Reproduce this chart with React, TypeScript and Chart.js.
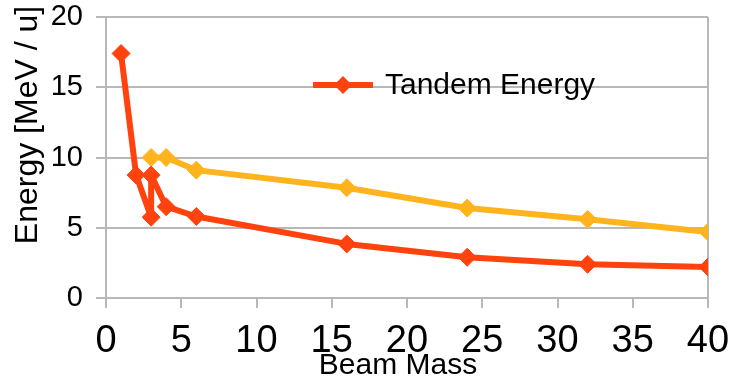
import { useEffect, useRef } from "react";
import { Chart, registerables } from "chart.js";

Chart.register(...registerables);

// Tandem output energy per nucleon versus beam mass
const tandemMass = [1, 2, 3, 3, 4, 6, 16, 24, 32, 40];
const tandemEnergy = [17.4, 8.75, 5.75, 8.75, 6.5, 5.8, 3.85, 2.9, 2.4, 2.2];

// Second (unlabelled) energy curve
const boostMass = [3, 4, 6, 16, 24, 32, 40];
const boostEnergy = [10, 10, 9.1, 7.85, 6.4, 5.6, 4.7];

const xTickValues = [0, 5, 10, 15, 20, 25, 30, 35, 40];
const yTickValues = [0, 5, 10, 15, 20];

const xTitle = "Beam Mass";
const yTitle = "Energy [MeV / u]";

const RED = "#ff420e";
const YELLOW = "#ffb41e";
const GRID = "#b8b8b8";
const SANS = "'Liberation Sans', Arial, sans-serif";

const toPoints = (xs: number[], ys: number[]) => xs.map((x, i) => ({ x, y: ys[i] }));

// Axis titles and the in-plot legend entry
const overlay = {
  id: "overlay",
  afterDraw(chart: Chart) {
    const { ctx } = chart;
    const ds: any = chart.data.datasets[0];

    ctx.save();
    ctx.fillStyle = "#000";
    ctx.font = `32px ${SANS}`;
    ctx.textAlign = "center";
    ctx.textBaseline = "alphabetic";
    ctx.translate(37, 125);
    ctx.rotate(-Math.PI / 2);
    ctx.fillText(yTitle, 0, 0);
    ctx.restore();

    ctx.save();
    ctx.fillStyle = "#000";
    ctx.font = `30px ${SANS}`;
    ctx.textAlign = "center";
    ctx.textBaseline = "alphabetic";
    ctx.fillText(xTitle, 398, 374);
    ctx.restore();

    // legend: sample line, marker, label
    ctx.save();
    const ly = 85;
    ctx.strokeStyle = ds.borderColor;
    ctx.lineWidth = 6;
    ctx.beginPath();
    ctx.moveTo(313, ly);
    ctx.lineTo(373, ly);
    ctx.stroke();
    ctx.fillStyle = ds.borderColor;
    ctx.beginPath();
    ctx.moveTo(343 - 9, ly);
    ctx.lineTo(343, ly - 9);
    ctx.lineTo(343 + 9, ly);
    ctx.lineTo(343, ly + 9);
    ctx.closePath();
    ctx.fill();
    ctx.fillStyle = "#000";
    ctx.font = `30px ${SANS}`;
    ctx.textAlign = "left";
    ctx.textBaseline = "alphabetic";
    ctx.fillText(ds.label, 385, 94);
    ctx.restore();
  },
};

export default function App() {
  const canvasRef = useRef<HTMLCanvasElement | null>(null);

  useEffect(() => {
    const canvas = canvasRef.current;
    if (!canvas) return;

    const chart = new Chart(canvas, {
      type: "scatter",
      data: {
        datasets: [
          {
            label: "Tandem Energy",
            data: toPoints(tandemMass, tandemEnergy),
            showLine: true,
            borderColor: RED,
            backgroundColor: RED,
            borderWidth: 6,
            borderJoinStyle: "round",
            pointStyle: "rectRot",
            pointRadius: 9,
            pointBorderWidth: 1,
            pointBackgroundColor: RED,
            pointBorderColor: RED,
            tension: 0,
          },
          {
            label: "Booster Energy",
            data: toPoints(boostMass, boostEnergy),
            showLine: true,
            borderColor: YELLOW,
            backgroundColor: YELLOW,
            borderWidth: 6,
            borderJoinStyle: "round",
            pointStyle: "rectRot",
            pointRadius: 9,
            pointBorderWidth: 1,
            pointBackgroundColor: YELLOW,
            pointBorderColor: YELLOW,
            tension: 0,
          },
        ],
      },
      options: {
        responsive: false,
        animation: false,
        devicePixelRatio: 1,
        layout: { padding: { left: 0, top: 17, right: 23, bottom: 0 } },
        plugins: {
          legend: { display: false },
          tooltip: { enabled: false },
        },
        scales: {
          x: {
            type: "linear",
            min: 0,
            max: 40,
            afterBuildTicks: (scale: any) => {
              scale.ticks = xTickValues.map((value) => ({ value }));
            },
            afterFit: (scale: any) => {
              scale.height = 79;
              scale.paddingLeft = 0;
              scale.paddingRight = 0;
              scale.paddingTop = 0;
              scale.paddingBottom = 0;
            },
            ticks: {
              color: "#000",
              padding: 15,
              maxRotation: 0,
              font: { family: SANS, size: 38, lineHeight: 1 },
            },
            grid: {
              color: (c: any) => (c.tick && c.tick.value === 40 ? GRID : "rgba(0,0,0,0)"),
              tickColor: GRID,
              lineWidth: 2,
              tickLength: 10,
            },
            border: { display: true, color: GRID, width: 2 },
          },
          y: {
            type: "linear",
            min: 0,
            max: 20,
            afterBuildTicks: (scale: any) => {
              scale.ticks = yTickValues.map((value) => ({ value }));
            },
            afterFit: (scale: any) => {
              scale.width = 106;
              scale.paddingLeft = 0;
              scale.paddingRight = 0;
              scale.paddingTop = 0;
              scale.paddingBottom = 0;
            },
            ticks: {
              color: "#000",
              padding: 13,
              font: { family: SANS, size: 29, lineHeight: 1 },
            },
            grid: {
              color: GRID,
              tickColor: GRID,
              lineWidth: 2,
              tickLength: 10,
            },
            border: { display: true, color: GRID, width: 2 },
          },
        },
      },
      plugins: [overlay],
    });

    return () => chart.destroy();
  }, []);

  return (
    <div style={{ position: "fixed", left: 0, top: 0, width: 731, height: 377, background: "#fff" }}>
      <canvas ref={canvasRef} width={731} height={377} style={{ display: "block" }} />
    </div>
  );
}
